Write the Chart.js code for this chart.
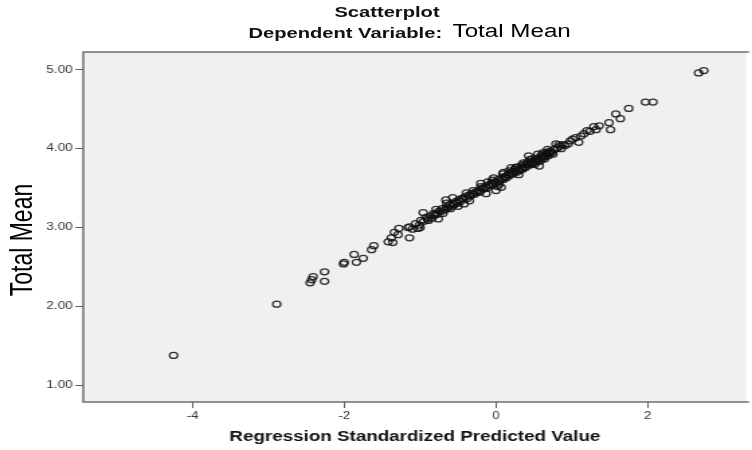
<!DOCTYPE html>
<html>
<head>
<meta charset="utf-8">
<script src="https://cdn.jsdelivr.net/npm/chart.js@4.4.1/dist/chart.umd.min.js"></script>
<style>
  body { margin: 0; background: #fff; overflow: hidden; }
  /* SPSS export is stretched sideways, so draw narrow and widen */
  #wrap { position: relative; width: 560px; height: 450px; transform: scaleX(1.3429); transform-origin: 0 0; }
  #wrap canvas { position: absolute; left: 0; top: 0; }
  .ttl { position: absolute; white-space: nowrap; color: #111; }
  #t1 { left: 249px; top: 3px; font: bold 15px "Liberation Sans", Arial, sans-serif; line-height: 18px; }
  #t2 { left: 185px; top: 24px; font: bold 15px "Liberation Sans", Arial, sans-serif; line-height: 18px; }
  #t3 { left: 337px; top: 20px; font: 18px "Liberation Sans", Arial, sans-serif; line-height: 22px; color: #000; }
  #ytitle { left: -53px; top: 226px; width: 140px; height: 28px; line-height: 28px; text-align: center;
            font: 23px "Liberation Sans", Arial, sans-serif; color: #000; transform: rotate(-90deg); }
</style>
</head>
<body>
<div id="wrap">
  <canvas id="scatterChart" width="560" height="450"></canvas>
  <div class="ttl" id="t1">Scatterplot</div>
  <div class="ttl" id="t2">Dependent Variable:</div>
  <div class="ttl" id="t3">Total Mean</div>
  <div class="ttl" id="ytitle">Total Mean</div>
</div>
<script>
// Regression Standardized Predicted Value (x) vs Total Mean (y)
const predicted = [
  -4.25, -2.89, -2.45, -2.43, -2.41, -2.26, -2.26, -2.01, -2.00, -1.87,
  -1.84, -1.75, -1.64, -1.61, -1.42, -1.38, -1.36, -1.34, -1.29, -1.28,
  -1.16, -1.14, -1.14, -1.10, -1.06, -1.03, -1.01, -1.00, -0.99, -0.96,
  -0.95, -0.92, -0.90, -0.89, -0.86, -0.84, -0.82, -0.80, -0.79, -0.78,
  -0.76, -0.75, -0.73, -0.71, -0.70, -0.68, -0.66, -0.65, -0.65, -0.63,
  -0.61, -0.60, -0.58, -0.57, -0.56, -0.55, -0.53, -0.51, -0.50, -0.49,
  -0.47, -0.45, -0.43, -0.42, -0.41, -0.39, -0.38, -0.36, -0.35, -0.34,
  -0.32, -0.30, -0.29, -0.27, -0.25, -0.23, -0.21, -0.20, -0.20, -0.18,
  -0.16, -0.14, -0.13, -0.12, -0.11, -0.10, -0.08, -0.06, -0.04, -0.03,
  -0.02, 0.00, 0.01, 0.02, 0.03, 0.05, 0.07, 0.07, 0.09, 0.10,
  0.10, 0.12, 0.14, 0.16, 0.17, 0.18, 0.20, 0.20, 0.22, 0.24,
  0.26, 0.27, 0.29, 0.30, 0.31, 0.33, 0.35, 0.36, 0.37, 0.39,
  0.41, 0.43, 0.44, 0.45, 0.46, 0.48, 0.50, 0.52, 0.54, 0.55,
  0.56, 0.57, 0.59, 0.61, 0.62, 0.63, 0.65, 0.67, 0.68, 0.70,
  0.72, 0.74, 0.77, 0.79, 0.81, 0.84, 0.86, 0.88, 0.91, 0.95,
  0.98, 1.01, 1.05, 1.09, 1.12, 1.16, 1.20, 1.24, 1.29, 1.32,
  1.36, 1.49, 1.51, 1.58, 1.64, 1.75, 1.97, 2.07, 2.67, 2.74,
  -0.05, 0.04, 0.11, 0.19, 0.25, 0.28, 0.34, 0.38, 0.42, 0.47,
  0.51, 0.53, 0.58, 0.60, 0.64, 0.66, 0.69, 0.71, 0.75, 0.83
];
const totalMean = [
  1.38, 2.03, 2.30, 2.34, 2.38, 2.44, 2.32, 2.54, 2.56, 2.66,
  2.56, 2.61, 2.72, 2.77, 2.82, 2.87, 2.81, 2.94, 2.91, 2.99,
  3.00, 2.87, 3.01, 2.98, 3.05, 2.99, 3.03, 3.00, 3.09, 3.19,
  3.08, 3.13, 3.11, 3.09, 3.15, 3.12, 3.18, 3.16, 3.23, 3.17,
  3.11, 3.21, 3.20, 3.24, 3.18, 3.22, 3.35, 3.26, 3.31, 3.25,
  3.29, 3.24, 3.27, 3.38, 3.30, 3.29, 3.33, 3.31, 3.27, 3.35,
  3.33, 3.37, 3.36, 3.30, 3.39, 3.44, 3.37, 3.41, 3.34, 3.40,
  3.43, 3.47, 3.42, 3.45, 3.44, 3.47, 3.45, 3.56, 3.52, 3.50,
  3.49, 3.52, 3.43, 3.50, 3.58, 3.54, 3.53, 3.56, 3.55, 3.63,
  3.58, 3.47, 3.57, 3.52, 3.61, 3.59, 3.62, 3.51, 3.68, 3.61,
  3.70, 3.65, 3.63, 3.67, 3.72, 3.66, 3.69, 3.76, 3.68, 3.71,
  3.76, 3.70, 3.73, 3.67, 3.72, 3.75, 3.74, 3.82, 3.77, 3.76,
  3.80, 3.91, 3.79, 3.86, 3.82, 3.81, 3.84, 3.83, 3.86, 3.93,
  3.85, 3.78, 3.89, 3.88, 3.95, 3.91, 3.90, 3.93, 3.99, 3.94,
  3.96, 3.95, 3.99, 4.06, 4.01, 4.03, 4.00, 4.05, 4.04, 4.06,
  4.10, 4.12, 4.14, 4.08, 4.16, 4.19, 4.23, 4.22, 4.28, 4.24,
  4.29, 4.33, 4.24, 4.44, 4.38, 4.51, 4.59, 4.59, 4.96, 4.99,
  3.60, 3.55, 3.64, 3.70, 3.74, 3.77, 3.79, 3.80, 3.83, 3.87,
  3.80, 3.88, 3.84, 3.92, 3.87, 3.95, 3.91, 3.97, 3.93, 4.05
];
const xTicks = [-4, -2, 0, 2];
const yTicks = [1, 2, 3, 4, 5];

// grey plot background + frame (right side runs off the picture)
const plotFrame = {
    id: "plotFrame",
    beforeDraw(chart) {
        const { ctx, chartArea: a } = chart;
        ctx.save();
        ctx.fillStyle = "#f0f0f0";
        ctx.fillRect(a.left, a.top, a.right - a.left, a.bottom - a.top);
        ctx.strokeStyle = "#6e6e6e";
        ctx.lineWidth = 1.5;
        ctx.beginPath();
        ctx.moveTo(a.right + 2, a.top);
        ctx.lineTo(a.left, a.top);
        ctx.lineTo(a.left, a.bottom);
        ctx.lineTo(a.right + 2, a.bottom);
        ctx.stroke();
        ctx.restore();
    }
};

const tickFont = { family: "'Liberation Sans', Arial, sans-serif", size: 10 };

new Chart(document.getElementById("scatterChart"), {
    type: "scatter",
    data: {
        datasets: [{
            label: "Total Mean",
            data: predicted.map((x, i) => ({ x: x, y: totalMean[i] })),
            pointStyle: "circle",
            pointRadius: 3,
            pointHoverRadius: 3,
            borderWidth: 1.25,
            borderColor: "rgba(15,15,15,0.85)",
            backgroundColor: "rgba(0,0,0,0)"
        }]
    },
    plugins: [plotFrame],
    options: {
        responsive: false,
        animation: false,
        devicePixelRatio: 1,
        layout: { padding: { top: 52, left: 0, right: 0, bottom: 0 } },
        plugins: {
            legend: { display: false },
            tooltip: { enabled: false }
        },
        scales: {
            x: {
                type: "linear",
                min: -5.44,
                max: 3.30,
                afterBuildTicks: s => { s.ticks = xTicks.map(v => ({ value: v })); },
                afterFit: s => { s.height = 48; },
                border: { display: false },
                grid: { drawOnChartArea: false, drawTicks: true, tickLength: 6, color: "#606060" },
                ticks: { font: tickFont, color: "#333", padding: 2, maxRotation: 0, callback: v => String(v) },
                title: {
                    display: true,
                    text: "Regression Standardized Predicted Value",
                    color: "#111",
                    font: { family: "'Liberation Sans', Arial, sans-serif", size: 14, weight: "bold" }
                }
            },
            y: {
                type: "linear",
                min: 0.79,
                max: 5.225,
                afterBuildTicks: s => { s.ticks = yTicks.map(v => ({ value: v })); },
                afterFit: s => { s.width = 62; },
                border: { display: false },
                grid: { drawOnChartArea: false, drawTicks: true, tickLength: 6, color: "#606060" },
                ticks: { font: tickFont, color: "#333", padding: 2, callback: v => v.toFixed(2) }
            }
        }
    }
});
</script>
</body>
</html>
